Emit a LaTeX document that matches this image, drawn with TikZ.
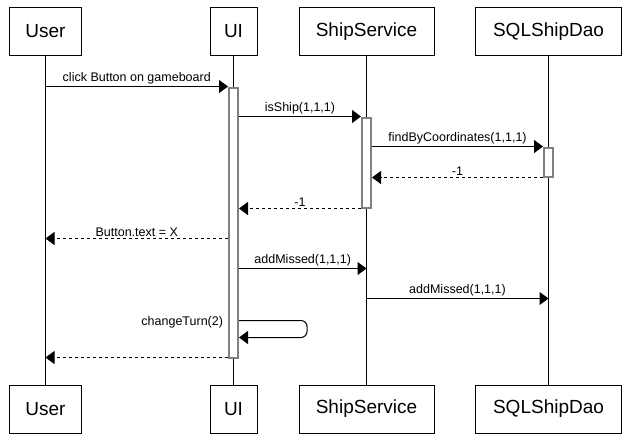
\documentclass[tikz,border=0pt]{standalone}
\usepackage{fontspec}
\setmainfont{Liberation Sans}
\usetikzlibrary{positioning, arrows.meta}

\begin{document}
\begin{tikzpicture}[x=1pt, y=-1pt, line width=1pt,
    actor/.style={rectangle, draw, minimum height=48pt, inner sep=0pt, font=\fontsize{19}{21}\selectfont},
    activ/.style={rectangle, draw=gray, line width=2pt, fill=white, minimum width=9pt, inner sep=0pt},
    msg/.style={-{Triangle[length=9pt,width=13pt]}},
    ret/.style={msg, dashed},
    lbl/.style={font=\fontsize{12.5}{14}\selectfont, above, inner sep=1.5pt}]
    \useasboundingbox (0,0) rectangle (628,440);
    % participants, top and bottom
    \node[actor, minimum width=72pt] (user) at (45.5,31.5) {User};
    \node[actor, minimum width=47pt] (ui) at (233.5,31.5) {UI};
    \node[actor, minimum width=135pt] (ship) at (366.5,31.5) {ShipService};
    \node[actor, minimum width=146pt] (dao) at (548.5,31.5) {SQLShipDao};
    \node[actor, minimum width=72pt] (userb) at (45.5,409) {User};
    \node[actor, minimum width=47pt] (uib) at (233.5,409) {UI};
    \node[actor, minimum width=135pt] (shipb) at (366.5,409) {ShipService};
    \node[actor, minimum width=146pt] (daob) at (548.5,409) {SQLShipDao};
    % lifelines
    \draw (user) -- (userb);
    \draw (ui) -- (uib);
    \draw (ship) -- (shipb);
    \draw (dao) -- (daob);
    % activations
    \node[activ, minimum height=270pt] (uiact) at (233.5,222.5) {};
    \node[activ, minimum height=90pt] (shipact) at (366.5,162.5) {};
    \node[activ, minimum height=29pt] (daoact) at (548.5,162) {};
    % message rows
    \coordinate (btn) at (0,238.5);
    \coordinate (miss) at (0,268.5);
    \coordinate (miss2) at (0,298.5);
    \coordinate (turn) at (0,320.5);
    \coordinate (turnb) at (0,337.5);
    \coordinate (back) at (0,357.5);
    % messages
    \draw[msg] (user |- uiact.north) -- node[lbl] {click Button on gameboard} (uiact.north west);
    \draw[msg] (uiact.east |- shipact.north) -- node[lbl] {isShip(1,1,1)} (shipact.north west);
    \draw[msg] (shipact.east |- daoact.north) -- node[lbl] {findByCoordinates(1,1,1)} (daoact.north west);
    \draw[ret] (daoact.south west) -- node[lbl] {-1} (shipact.east |- daoact.south);
    \draw[ret] (shipact.south west) -- node[lbl] {-1} (uiact.east |- shipact.south);
    \draw[ret] (uiact.west |- btn) -- node[lbl] {Button.text = X} (user |- btn);
    \draw[msg] (uiact.east |- miss) -- node[lbl] {addMissed(1,1,1)} (ship |- miss);
    \draw[msg] (ship |- miss2) -- node[lbl] {addMissed(1,1,1)} (dao |- miss2);
    \draw[msg, rounded corners=6pt] (uiact.east |- turn) -- ++(68,0) |- (uiact.east |- turnb);
    \node[lbl, anchor=east, inner sep=1.5pt] (turnlbl) at ([xshift=-3pt, yshift=-1.5pt]uiact.west |- turn) {changeTurn(2)};
    \draw[ret] (uiact.west |- back) -- (user |- back);
\end{tikzpicture}
\end{document}
